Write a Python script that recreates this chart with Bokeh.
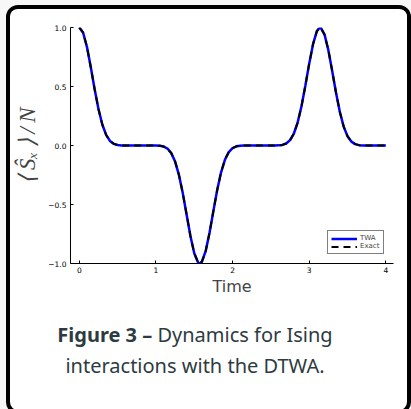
from bokeh.plotting import figure
from bokeh.models import Range1d, FixedTicker, CustomJSTickFormatter, Div
from bokeh.layouts import column
from bokeh.embed import file_html
from bokeh.resources import INLINE

# ---- data ----
time = [0.00, 0.05, 0.10, 0.15, 0.20, 0.25, 0.30, 0.35, 0.40, 0.45, 0.50, 0.55, 0.60, 0.65,
        0.70, 0.75, 0.80, 0.85, 0.90, 0.95, 1.00, 1.05, 1.10, 1.15, 1.20, 1.25, 1.30, 1.35,
        1.40, 1.45, 1.50, 1.55, 1.57, 1.60, 1.65, 1.70, 1.75, 1.80, 1.85, 1.90, 1.95, 2.00,
        2.05, 2.10, 2.15, 2.20, 2.25, 2.30, 2.35, 2.40, 2.45, 2.50, 2.55, 2.60, 2.65, 2.70,
        2.75, 2.80, 2.85, 2.90, 2.95, 3.00, 3.05, 3.10, 3.14, 3.15, 3.20, 3.25, 3.30, 3.35,
        3.40, 3.45, 3.50, 3.55, 3.60, 3.65, 3.70, 3.75, 3.80, 3.85, 3.90, 3.95, 4.00]
exact = [1.0, 0.9559, 0.8343, 0.6628, 0.4771, 0.3087, 0.1777, 0.0896, 0.0387, 0.0139, 0.0039,
         0.0008, 0.0001, 0.0, 0.0, 0.0, 0.0, 0.0, 0.0, 0.0, -0.0004, -0.0021, -0.0085, -0.0259,
         -0.0645, -0.1360, -0.2491, -0.4035, -0.5853, -0.7670, -0.9134, -0.9923, -1.0, -0.9847,
         -0.8928, -0.7380, -0.5539, -0.3751, -0.2270, -0.1212, -0.0560, -0.0218, -0.0069,
         -0.0016, -0.0003, 0.0, 0.0, 0.0, 0.0, 0.0, 0.0, 0.0, 0.0002, 0.0011, 0.0049, 0.0167,
         0.0451, 0.1015, 0.1967, 0.3348, 0.5079, 0.6937, 0.8590, 0.9693, 1.0, 0.9987, 0.9403,
         0.8080, 0.6316, 0.4468, 0.2838, 0.1599, 0.0787, 0.0331, 0.0115, 0.0031, 0.0006,
         0.0001, 0.0, 0.0, 0.0, 0.0, 0.0]
twa = [1.0, 0.9559, 0.8343, 0.6628, 0.4771, 0.3087, 0.1777, 0.0896, 0.0387, 0.0139, 0.0039,
       0.0008, 0.0001, 0.0, 0.0, 0.0, 0.0, 0.0, 0.0, 0.0, -0.0004, -0.0021, -0.0085, -0.0259,
       -0.0645, -0.1360, -0.2491, -0.4035, -0.5853, -0.7670, -0.9134, -0.9923, -1.0, -0.9847,
       -0.8928, -0.7380, -0.5539, -0.3751, -0.2270, -0.1212, -0.0560, -0.0218, -0.0069,
       -0.0016, -0.0003, 0.0, 0.0, 0.0, 0.0, 0.0, 0.0, 0.0, 0.0002, 0.0011, 0.0049, 0.0167,
       0.0451, 0.1015, 0.1967, 0.3348, 0.5079, 0.6937, 0.8590, 0.9693, 1.0, 0.9987, 0.9403,
       0.8080, 0.6316, 0.4468, 0.2838, 0.1599, 0.0787, 0.0331, 0.0115, 0.0031, 0.0006,
       0.0001, 0.0, 0.0, 0.0, 0.0, 0.0]
xticks = [0, 1, 2, 3, 4]
yticks = [-1.0, -0.5, 0.0, 0.5, 1.0]
series_names = ["TWA", "Exact"]
x_label = "Time"
y_label = "⟨\u2009Ŝₓ\u2009⟩\u2009/\u2009N"
caption_bold = "Figure 3 –"
caption_line1 = "Dynamics for Ising"
caption_line2 = "interactions with the DTWA."

# ---- layout (page coords) ----
PAGE_W, PAGE_H = 411, 409
CARD_X, CARD_Y, BORDER = 6, 5, 4          # outer top-left of the card, border width
IN_X, IN_Y = CARD_X + BORDER, CARD_Y + BORDER
IN_RIGHT, IN_BOTTOM = 407, 405           # inner edges of the card
FL, FT, FR, FB = 70, 27, 393, 263        # frame edges in page coords
FIG_BOTTOM = 300
PAGE_BG = "#f7f7f7"
CAP_COLOR = "#2d3b41"

fig_w = IN_RIGHT - IN_X
fig_h = FIG_BOTTOM - IN_Y

p = figure(width=fig_w, height=fig_h, output_backend="svg", toolbar_location=None, title=None,
           x_range=Range1d(-0.115, 4.1), y_range=Range1d(-1.0, 1.0),
           min_border_left=FL - IN_X, min_border_top=FT - IN_Y,
           min_border_right=IN_RIGHT - FR, min_border_bottom=FIG_BOTTOM - FB)
p.border_fill_color = "white"
p.background_fill_color = "white"
p.outline_line_color = None
p.xgrid.grid_line_color = None
p.ygrid.grid_line_color = None

p.line(time, twa, line_color="#0000ff", line_width=2.5, legend_label=series_names[0])
p.line(time, exact, line_color="black", line_width=2, line_dash="7 5",
       legend_label=series_names[1])

for ax in (p.xaxis[0], p.yaxis[0]):
    ax.axis_line_color = "black"
    ax.axis_line_width = 1
    ax.major_tick_in = 3
    ax.major_tick_out = 0
    ax.minor_tick_line_color = None
    ax.major_label_text_font = "DejaVu Sans"
    ax.major_label_text_font_size = "7.5px"
    ax.major_label_text_color = "black"

p.xaxis.ticker = FixedTicker(ticks=xticks)
p.yaxis.ticker = FixedTicker(ticks=yticks)
p.yaxis.formatter = CustomJSTickFormatter(
    code="return (tick < 0 ? '\u2212' : '') + Math.abs(tick).toFixed(1);")
p.xaxis.major_label_standoff = 3
p.yaxis.major_label_standoff = 4

p.xaxis.axis_label = x_label
p.xaxis.axis_label_text_font = "DejaVu Sans"
p.xaxis.axis_label_text_font_style = "normal"
p.xaxis.axis_label_text_font_size = "16px"
p.xaxis.axis_label_standoff = 1

p.yaxis.axis_label = y_label
p.yaxis.axis_label_text_font = "Liberation Serif"
p.yaxis.axis_label_text_font_style = "italic"
p.yaxis.axis_label_text_font_size = "23px"
p.yaxis.axis_label_standoff = 5

lg = p.legend[0]
lg.location = "bottom_right"
lg.margin = 9
lg.padding = 3
lg.spacing = 0
lg.glyph_width = 26
lg.glyph_height = 7
lg.label_height = 7
lg.label_standoff = 3
lg.label_text_font = "DejaVu Sans"
lg.label_text_font_size = "7px"
lg.border_line_color = "black"
lg.border_line_width = 1
lg.background_fill_color = "white"
lg.background_fill_alpha = 1.0

cap = Div(text=f"<b>{caption_bold}</b> {caption_line1}<br>{caption_line2}",
          width=360, height=IN_BOTTOM - FIG_BOTTOM,
          styles={"font-family": "'Noto Sans', sans-serif", "font-size": "20px",
                  "color": CAP_COLOR, "text-align": "center", "line-height": "31px",
                  "padding-top": "14px", "box-sizing": "border-box"})

card = column(p, cap, margin=(CARD_Y, 0, 0, CARD_X), spacing=0,
              styles={"border": f"{BORDER}px solid black", "border-radius": "12px",
                      "background-color": "white", "overflow": "hidden"})

root = column(card, width=PAGE_W, height=PAGE_H, spacing=0,
              styles={"background-color": PAGE_BG})

open("out.html", "w").write(file_html(root, INLINE))
